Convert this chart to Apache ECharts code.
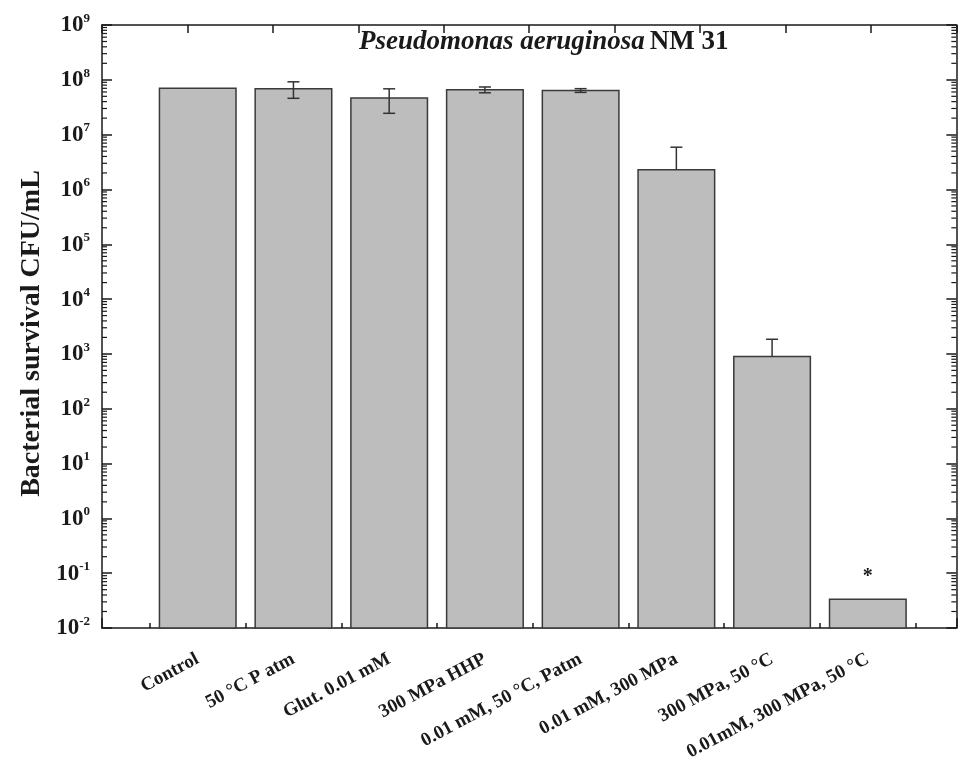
<!DOCTYPE html>
<html>
<head>
<meta charset="utf-8">
<script src="https://cdn.jsdelivr.net/npm/echarts@6/dist/echarts.min.js"></script>
<style>
  html, body { margin: 0; padding: 0; background: #ffffff; }
  #chart { width: 959px; height: 769px; }
</style>
</head>
<body>
<div id="chart"></div>
<script>
// Treatments, in plotting order
const categories = [
  'Control',
  '50 °C P atm',
  'Glut. 0.01 mM',
  '300 MPa HHP',
  '0.01 mM, 50 °C, Patm',
  '0.01 mM, 300 MPa',
  '300 MPa, 50 °C',
  '0.01mM, 300 MPa, 50 °C'
];
// Mean survival (CFU/mL) and standard deviation
const survival    = [7.05e7, 6.9e7, 4.65e7, 6.6e7, 6.4e7, 2.3e6, 900, 0.0335];
const survivalErr = [1.0e6, 2.3e7, 2.2e7, 0.8e7, 0.5e7, 3.6e6, 950, 0];
// Significance markers above bars
const significance = ['', '', '', '', '', '', '', '*'];
// Decade exponents of the y axis (labels read 10^n)
const yExponents = [-2, -1, 0, 1, 2, 3, 4, 5, 6, 7, 8, 9];

const SERIF = "'Liberation Serif', 'Times New Roman', serif";
const INK = '#1a1a1a';

const yMin = yExponents[0];
const yMax = yExponents[yExponents.length - 1];

// minor ticks at 2..9 x 10^n, in log10 units
const minorTicks = [];
for (let n = yMin; n < yMax; n++) {
  for (let k = 2; k <= 9; k++) minorTicks.push(n + Math.log10(k));
}

const barData = categories.map((c, i) => {
  const v = survival[i], e = survivalErr[i];
  const up = Math.log10(v + e);
  const low = v - e > 0 ? Math.log10(v - e) : NaN;
  return [i + 1, Math.log10(v), up, low, i];
});

const chart = echarts.init(document.getElementById('chart'), null, { renderer: 'canvas' });

const axisLineStyle = { color: INK, width: 1.5 };
const tickStyle = { color: INK, width: 1.5 };

chart.setOption({
  backgroundColor: '#ffffff',
  animation: false,
  title: {
    text: '{i|Pseudomonas aeruginosa} {n|NM 31}',
    left: 354,
    top: 24,
    textStyle: {
      rich: {
        i: { fontFamily: SERIF, fontStyle: 'italic', fontWeight: 'bold', fontSize: 27, color: INK },
        n: { fontFamily: SERIF, fontWeight: 'bold', fontSize: 27, color: INK }
      }
    }
  },
  grid: { left: 102, right: 2, top: 25, bottom: 141, containLabel: false },
  xAxis: [
    {
      type: 'value',
      position: 'bottom',
      min: 0,
      max: 8.925,
      interval: 1,
      axisLine: { show: true, onZero: false, lineStyle: axisLineStyle },
      axisTick: { show: true, inside: true, length: 10, lineStyle: tickStyle },
      minorTick: { show: true, splitNumber: 2, length: 5, lineStyle: tickStyle },
      splitLine: { show: false },
      minorSplitLine: { show: false },
      axisLabel: {
        rotate: 28,
        margin: 30,
        fontFamily: SERIF,
        fontWeight: 'bold',
        fontSize: 19,
        color: INK,
        formatter: (v) => {
          const k = Math.round(v);
          return (Math.abs(v - k) < 1e-6 && k >= 1 && k <= categories.length) ? categories[k - 1] : '';
        }
      }
    },
    {
      type: 'value',
      position: 'top',
      min: 0,
      max: 10,
      interval: 1,
      axisLine: { show: true, onZero: false, lineStyle: axisLineStyle },
      axisTick: { show: true, inside: true, length: 8, lineStyle: tickStyle },
      axisLabel: { show: false },
      splitLine: { show: false }
    }
  ],
  yAxis: [
    {
      type: 'value',
      position: 'left',
      min: yMin,
      max: yMax,
      interval: 1,
      name: 'Bacterial survival CFU/mL',
      nameLocation: 'middle',
      nameGap: 56,
      nameTextStyle: { fontFamily: SERIF, fontWeight: 'bold', fontSize: 28, color: INK, padding: [0, 14, 0, 0] },
      axisLine: { show: true, onZero: false, lineStyle: axisLineStyle },
      axisTick: { show: true, inside: true, length: 10, lineStyle: tickStyle },
      splitLine: { show: false },
      axisLabel: {
        margin: 12,
        formatter: (v) => '{b|10}{s|' + yExponents[yExponents.indexOf(Math.round(v))] + '}',
        rich: {
          b: { fontFamily: SERIF, fontWeight: 'bold', fontSize: 23, color: INK, verticalAlign: 'bottom', lineHeight: 24 },
          s: { fontFamily: SERIF, fontWeight: 'bold', fontSize: 13, color: INK, verticalAlign: 'bottom', lineHeight: 24, padding: [0, 0, 12, 0] }
        }
      }
    },
    {
      type: 'value',
      position: 'right',
      min: yMin,
      max: yMax,
      interval: 1,
      axisLine: { show: true, onZero: false, lineStyle: axisLineStyle },
      axisTick: { show: true, inside: true, length: 10, lineStyle: tickStyle },
      axisLabel: { show: false },
      splitLine: { show: false }
    }
  ],
  series: [
    {
      type: 'custom',
      name: 'survival',
      xAxisIndex: 0,
      yAxisIndex: 0,
      data: barData,
      encode: { x: 0, y: 1 },
      clip: false,
      renderItem: (params, api) => {
        const x = api.value(0);
        const top = api.coord([x, api.value(1)]);
        const left = api.coord([x - 0.4, api.value(1)]);
        const right = api.coord([x + 0.4, api.value(1)]);
        const cs = params.coordSys;
        const baseY = cs.y + cs.height;
        const children = [{
          type: 'rect',
          shape: { x: left[0], y: top[1], width: right[0] - left[0], height: baseY - top[1] },
          style: { fill: '#bdbdbd', stroke: '#3a3a3a', lineWidth: 1.5 }
        }];
        const upY = api.coord([x, api.value(2)])[1];
        const lowV = api.value(3);
        const lowY = isNaN(lowV) ? top[1] : api.coord([x, lowV])[1];
        const cap = 6;
        const errStyle = { stroke: '#333333', lineWidth: 1.5 };
        if (top[1] - upY > 0.5) {
          children.push({ type: 'line', shape: { x1: top[0], y1: upY, x2: top[0], y2: lowY }, style: errStyle });
          children.push({ type: 'line', shape: { x1: top[0] - cap, y1: upY, x2: top[0] + cap, y2: upY }, style: errStyle });
          if (!isNaN(lowV)) {
            children.push({ type: 'line', shape: { x1: top[0] - cap, y1: lowY, x2: top[0] + cap, y2: lowY }, style: errStyle });
          }
        }
        const mark = significance[api.value(4)];
        if (mark) {
          children.push({
            type: 'text',
            style: {
              text: mark, x: top[0], y: top[1] - 12,
              align: 'center', verticalAlign: 'bottom',
              font: 'bold 20px ' + SERIF, fill: INK
            }
          });
        }
        return { type: 'group', children };
      },
      z: 2
    },
    {
      type: 'custom',
      name: 'minorTicks',
      silent: true,
      xAxisIndex: 0,
      yAxisIndex: 0,
      data: minorTicks.map((t) => [0, t]),
      encode: { x: 0, y: 1 },
      renderItem: (params, api) => {
        const cs = params.coordSys;
        const y = api.coord([0, api.value(1)])[1];
        const st = { stroke: INK, lineWidth: 1.2 };
        return {
          type: 'group',
          children: [
            { type: 'line', shape: { x1: cs.x, y1: y, x2: cs.x + 5, y2: y }, style: st },
            { type: 'line', shape: { x1: cs.x + cs.width, y1: y, x2: cs.x + cs.width - 5, y2: y }, style: st }
          ]
        };
      },
      z: 3
    }
  ]
});
</script>
</body>
</html>
